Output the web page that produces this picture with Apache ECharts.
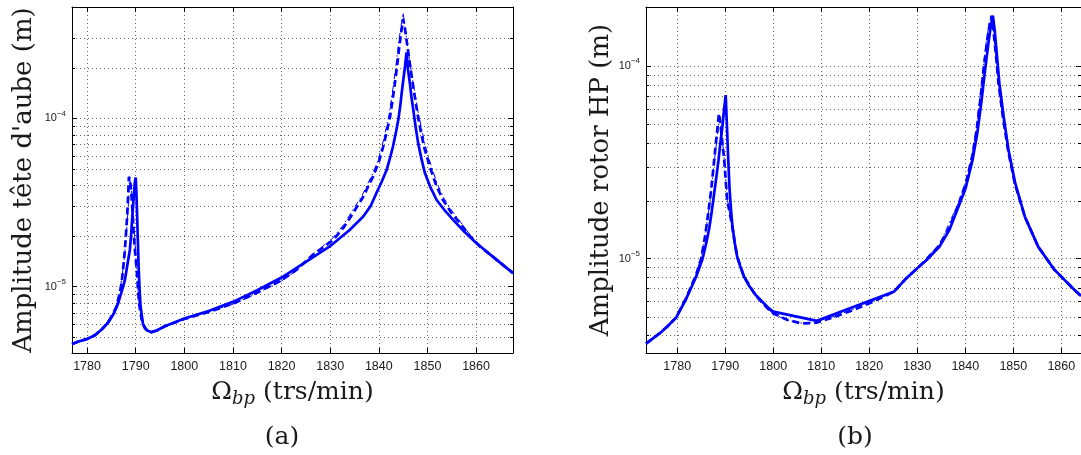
<!DOCTYPE html>
<html><head><meta charset="utf-8">
<script src="https://cdn.jsdelivr.net/npm/echarts@6/dist/echarts.min.js"></script>
<style>html,body{margin:0;padding:0;background:#fff}#c{width:1081px;height:455px}</style>
</head><body><div id="c"></div><script>
// ---------- data (a) : blade tip amplitude ----------
const A_SOLID_X = [1776.9,1778,1780,1781.6,1783,1784.3,1785.5,1786.4,1787.2,1787.8,1788.3,1788.8,1789.1,1789.3,1789.6,1789.8,1790.0,1790.15,1790.3,1790.45,1790.6,1790.8,1791.0,1791.5,1792.2,1793.2,1794.2,1796,1800,1805,1810,1815,1820,1825,1829.9,1834.0,1836.8,1838.3,1839.5,1840.6,1841.6,1842.3,1842.9,1843.5,1844.0,1844.4,1844.7,1845.1,1845.4,1845.7,1846.0,1846.4,1846.7,1847.1,1847.6,1848.1,1848.8,1849.5,1850.6,1851.9,1853.5,1855.3,1857.7,1860.1,1863.5,1867.6];
const A_SOLID_Y = [4.55e-6,4.68e-6,4.87e-6,5.12e-6,5.55e-6,6.07e-6,6.9e-6,7.96e-6,9.5e-6,1.1e-5,1.35e-5,1.65e-5,2.1e-5,2.61e-5,3.4e-5,4.11e-5,4.45e-5,3.6e-5,2.61e-5,1.85e-5,1.32e-5,9.6e-6,7.6e-6,6.0e-6,5.5e-6,5.35e-6,5.45e-6,5.8e-6,6.45e-6,7.15e-6,8.1e-6,9.5e-6,1.13e-5,1.4e-5,1.73e-5,2.17e-5,2.61e-5,3.0e-5,3.59e-5,4.2e-5,4.93e-5,5.8e-5,6.78e-5,8.2e-5,9.77e-5,1.18e-4,1.41e-4,1.75e-4,2.05e-4,2.47e-4,1.95e-4,1.61e-4,1.35e-4,1.12e-4,8.8e-5,7.1e-5,5.7e-5,4.71e-5,3.9e-5,3.27e-5,2.85e-5,2.49e-5,2.1e-5,1.81e-5,1.5e-5,1.2e-5];
const A_DASH_X = [1776.9,1778,1780,1781.6,1783,1784.3,1785.3,1786.0,1786.7,1787.1,1787.4,1787.7,1787.95,1788.2,1788.4,1788.6,1788.85,1789.1,1789.3,1789.5,1789.8,1790.2,1790.5,1790.7,1791.2,1791.8,1792.5,1793.2,1794.2,1796,1800,1805,1810,1815,1820,1823,1826.5,1830.6,1832.8,1834.7,1836.8,1838.8,1840,1840.9,1841.7,1842.3,1842.8,1843.3,1843.8,1844.3,1844.7,1845.0,1845.4,1845.8,1846.3,1846.8,1847.4,1848.0,1848.6,1849.4,1850.5,1851.8,1853.2,1854.9,1856.7,1858.7,1860.8,1863.5,1867.6];
const A_DASH_Y = [4.55e-6,4.68e-6,4.87e-6,5.12e-6,5.55e-6,6.1e-6,6.9e-6,7.5e-6,9.1e-6,1.05e-5,1.26e-5,1.55e-5,1.95e-5,2.5e-5,3.2e-5,4.5e-5,4.3e-5,3.6e-5,2.9e-5,2.27e-5,1.7e-5,1.26e-5,9.5e-6,7.9e-6,6.4e-6,5.7e-6,5.45e-6,5.35e-6,5.45e-6,5.8e-6,6.4e-6,7.05e-6,7.9e-6,9.2e-6,1.09e-5,1.25e-5,1.55e-5,1.89e-5,2.25e-5,2.73e-5,3.42e-5,4.5e-5,5.5e-5,6.78e-5,8.5e-5,1.02e-4,1.27e-4,1.61e-4,2.1e-4,2.79e-4,3.4e-4,3.9e-4,3.4e-4,2.8e-4,2.2e-4,1.75e-4,1.35e-4,1.05e-4,8.5e-5,6.6e-5,5.16e-5,4.0e-5,3.27e-5,2.75e-5,2.38e-5,2.0e-5,1.73e-5,1.5e-5,1.2e-5];
const A_DOTDASH_X = [1776.9,1780,1783,1785.2,1786.0,1786.6,1787.1,1787.5,1787.9,1788.2,1788.5,1788.7,1789.0,1789.3,1789.7,1790.2,1790.7,1791.3,1792.2,1793.2,1796,1800,1810,1815,1820,1823,1826.5,1830.4,1832.6,1834.5,1836.6,1838.6,1839.8,1840.7,1841.5,1842.1,1842.6,1843.1,1843.6,1844.1,1844.6,1845.0,1845.4,1845.8,1846.3,1846.8,1847.5,1848.1,1848.8,1849.6,1850.7,1852.0,1853.4,1855.1,1856.9,1858.8,1860.8,1863.5,1867.6];
const A_DOTDASH_Y = [4.55e-6,4.87e-6,5.55e-6,6.8e-6,7.6e-6,9.0e-6,1.1e-5,1.35e-5,1.75e-5,2.3e-5,3.1e-5,4.4e-5,4.1e-5,3.3e-5,2.2e-5,1.25e-5,7.8e-6,6.3e-6,5.5e-6,5.35e-6,5.8e-6,6.4e-6,7.85e-6,9.1e-6,1.08e-5,1.24e-5,1.56e-5,1.92e-5,2.3e-5,2.8e-5,3.5e-5,4.6e-5,5.6e-5,6.9e-5,8.7e-5,1.05e-4,1.3e-4,1.65e-4,2.15e-4,2.85e-4,3.6e-4,4.25e-4,3.5e-4,2.85e-4,2.25e-4,1.8e-4,1.38e-4,1.08e-4,8.7e-5,6.8e-5,5.3e-5,4.1e-5,3.35e-5,2.8e-5,2.4e-5,2.02e-5,1.73e-5,1.5e-5,1.2e-5];
// ---------- data (b) : HP rotor amplitude ----------
const B_SOLID_X = [1773.5,1776.4,1778,1779.8,1781.9,1783.9,1785.3,1786.1,1786.7,1787.2,1787.7,1788.2,1788.6,1789.0,1789.4,1789.75,1790.1,1790.3,1790.6,1790.9,1791.2,1791.5,1792.0,1792.5,1793.2,1793.9,1795,1796.3,1798.7,1800,1809.1,1825.2,1827.5,1830,1831.9,1834.6,1836.7,1838.6,1840.1,1841.5,1842.5,1843.4,1844.2,1844.9,1845.3,1845.75,1846.1,1846.5,1847.1,1848.0,1849.0,1850.4,1852.4,1855.2,1858.6,1862.7,1864.1];
const B_SOLID_Y = [3.62e-6,4.1e-6,4.45e-6,4.95e-6,6.2e-6,8.0e-6,1.0e-5,1.22e-5,1.45e-5,1.76e-5,2.18e-5,2.7e-5,3.24e-5,4.0e-5,4.83e-5,5.9e-5,7.05e-5,5.3e-5,3.4e-5,2.3e-5,1.8e-5,1.47e-5,1.2e-5,1.02e-5,9.0e-6,8.07e-6,7.2e-6,6.49e-6,5.64e-6,5.3e-6,4.75e-6,6.75e-6,7.8e-6,8.9e-6,9.8e-6,1.15e-5,1.41e-5,1.86e-5,2.33e-5,3.24e-5,4.47e-5,6.64e-5,9.9e-5,1.36e-4,1.6e-4,1.82e-4,1.55e-4,1.2e-4,8.1e-5,5.45e-5,3.66e-5,2.46e-5,1.65e-5,1.15e-5,8.73e-6,6.89e-6,6.4e-6];
const B_DASH_X = [1773.5,1776.4,1778,1779.8,1781.9,1783.9,1785.0,1785.8,1786.5,1787.1,1787.7,1788.2,1788.7,1789.0,1789.4,1789.8,1790.4,1790.9,1791.5,1792.0,1792.5,1793.9,1796.3,1798.7,1800,1803,1806,1809,1813,1817,1821,1825.2,1827.5,1830,1831.9,1834.6,1836.7,1838.6,1840.1,1841.4,1842.4,1843.2,1843.9,1844.6,1845.1,1845.5,1845.9,1846.3,1846.9,1847.8,1848.9,1850.3,1852.4,1855.2,1858.6,1862.7,1864.1];
const B_DASH_Y = [3.62e-6,4.1e-6,4.45e-6,4.95e-6,6.25e-6,8.2e-6,1.0e-5,1.3e-5,1.75e-5,2.3e-5,3.24e-5,4.3e-5,5.66e-5,5.0e-5,4.0e-5,3.24e-5,2.01e-5,1.75e-5,1.45e-5,1.2e-5,1.02e-5,8.07e-6,6.45e-6,5.55e-6,5.2e-6,4.8e-6,4.6e-6,4.65e-6,5.0e-6,5.45e-6,6.0e-6,6.75e-6,7.8e-6,8.9e-6,9.9e-6,1.17e-5,1.45e-5,1.92e-5,2.45e-5,3.35e-5,4.7e-5,6.9e-5,1.0e-4,1.38e-4,1.65e-4,1.82e-4,1.5e-4,1.2e-4,8.2e-5,5.5e-5,3.66e-5,2.46e-5,1.65e-5,1.15e-5,8.73e-6,6.89e-6,6.4e-6];
const B_DOTDASH_X = [1773.5,1778,1779.8,1783.9,1785.0,1785.9,1786.6,1787.2,1787.8,1788.3,1788.8,1789.2,1789.6,1790.0,1790.5,1791.1,1791.8,1792.5,1794,1796.3,1800,1803,1806,1809,1813,1817,1821,1825.2,1830,1834.6,1838.6,1840.1,1841.4,1842.3,1843.1,1843.8,1844.5,1845.0,1845.5,1845.9,1846.3,1846.9,1847.8,1848.9,1850.3,1852.4,1855.2,1858.6,1864.1];
const B_DOTDASH_Y = [3.62e-6,4.45e-6,4.95e-6,8.2e-6,1.03e-5,1.35e-5,1.8e-5,2.4e-5,3.3e-5,4.2e-5,5.3e-5,4.6e-5,3.7e-5,2.8e-5,2.0e-5,1.6e-5,1.3e-5,1.02e-5,7.9e-6,6.45e-6,5.15e-6,4.78e-6,4.62e-6,4.7e-6,5.05e-6,5.5e-6,6.05e-6,6.75e-6,8.9e-6,1.18e-5,1.95e-5,2.5e-5,3.4e-5,4.75e-5,7.0e-5,1.02e-4,1.4e-4,1.67e-4,1.8e-4,1.5e-4,1.18e-4,8.0e-5,5.4e-5,3.6e-5,2.45e-5,1.65e-5,1.15e-5,8.73e-6,6.4e-6];
// axis ranges and minor (log) grid values
const A_XRANGE = [1776.9, 1867.6];
const A_YRANGE = [4.02e-6, 4.6e-4];
const B_XRANGE = [1773.5, 1864.1];
const B_YRANGE = [3.235e-6, 2.02e-4];
const A_MINOR = [5e-6,6e-6,7e-6,8e-6,9e-6,2e-5,3e-5,4e-5,5e-5,6e-5,7e-5,8e-5,9e-5,2e-4,3e-4];
const B_MINOR = [4e-6,5e-6,6e-6,7e-6,8e-6,9e-6,2e-5,3e-5,4e-5,5e-5,6e-5,7e-5,8e-5,9e-5];
const A_YNAME = "Amplitude tête d'aube (m)";
const B_YNAME = 'Amplitude rotor HP (m)';
const XNAME = 'Ω{sub|bp} (trs/min)';
const PANEL_TAGS = ['(a)', '(b)'];

const zip = (xs, ys) => xs.map((x, i) => [x, ys[i]]);
const BLUE = '#0000ff';
const GRIDC = '#666';
const DOT = [1, 3];
const TICKF = 'Liberation Sans';
const SERIF = 'DejaVu Serif';
const TXT = '#1a1a1a';

const chart = echarts.init(document.getElementById('c'), null, {renderer: 'canvas'});

function xAxes(gi, r) {
  const common = {type: 'value', gridIndex: gi, min: r[0], max: r[1], splitNumber: 9,
    axisLine: {show: true, lineStyle: {color: '#000', width: 1}},
    axisTick: {show: true, inside: true, length: 5, lineStyle: {color: '#000'}}};
  return [
    Object.assign({}, common, {position: 'bottom',
      axisLabel: {color: TXT, fontFamily: TICKF, fontSize: 12.5, margin: 7, showMinLabel: false, showMaxLabel: false,
        formatter: v => String(Math.round(v))},
      splitLine: {show: true, lineStyle: {color: GRIDC, type: DOT}},
      name: XNAME, nameLocation: 'middle', nameGap: 22,
      nameTextStyle: {fontFamily: SERIF, fontSize: 25, color: TXT, lineHeight: 30,
        rich: {sub: {fontFamily: SERIF, fontStyle: 'italic', fontSize: 18, color: TXT, verticalAlign: 'bottom', lineHeight: 30}}}}),
    Object.assign({}, common, {position: 'top', axisLabel: {show: false}, splitLine: {show: false}})
  ];
}
function yAxes(gi, r, name, gap) {
  const common = {type: 'log', logBase: 10, gridIndex: gi, min: r[0], max: r[1],
    axisLine: {show: true, lineStyle: {color: '#000', width: 1}},
    axisTick: {show: true, inside: true, length: 5, lineStyle: {color: '#000'}}};
  return [
    Object.assign({}, common, {position: 'left',
      axisLabel: {margin: 6, showMinLabel: false, showMaxLabel: false,
        formatter: v => { const e = Math.round(Math.log10(v)); return '{b|10}{s|' + (e < 0 ? '−' : '') + Math.abs(e) + '}'; },
        rich: {b: {fontFamily: TICKF, fontSize: 11, color: TXT, lineHeight: 18, verticalAlign: 'middle'},
               s: {fontFamily: TICKF, fontSize: 8, color: TXT, verticalAlign: 'top'}}},
      splitLine: {show: true, lineStyle: {color: GRIDC, type: DOT}},
      name: name, nameLocation: 'middle', nameRotate: 90, nameGap: gap,
      nameTextStyle: {fontFamily: SERIF, fontSize: 26, color: TXT}}),
    Object.assign({}, common, {position: 'right', axisLabel: {show: false}, splitLine: {show: false}})
  ];
}
function ser(xi, yi, xs, ys, kind) {
  const ls = kind === 'solid' ? {color: BLUE, width: 2.7, type: 'solid'}
           : kind === 'dash' ? {color: BLUE, width: 2.7, type: [7, 4]}
           : {color: BLUE, width: 1, type: [6, 3, 1.5, 3]};
  return {type: 'line', xAxisIndex: xi, yAxisIndex: yi, data: zip(xs, ys), showSymbol: false,
    symbol: 'none', smooth: false, lineStyle: ls, silent: true, animation: false, z: 3, clip: true};
}

chart.setOption({
  animation: false,
  backgroundColor: '#fff',
  grid: [{left: 72, top: 7, width: 441, height: 346}, {left: 646, top: 7, width: 441, height: 346}],
  xAxis: xAxes(0, A_XRANGE).concat(xAxes(1, B_XRANGE)),
  yAxis: yAxes(0, A_YRANGE, A_YNAME, 35).concat(yAxes(1, B_YRANGE, B_YNAME, 31)),
  series: [
    ser(0, 0, A_DOTDASH_X, A_DOTDASH_Y, 'dotdash'),
    ser(0, 0, A_DASH_X, A_DASH_Y, 'dash'),
    ser(0, 0, A_SOLID_X, A_SOLID_Y, 'solid'),
    ser(2, 2, B_DOTDASH_X, B_DOTDASH_Y, 'dotdash'),
    ser(2, 2, B_DASH_X, B_DASH_Y, 'dash'),
    ser(2, 2, B_SOLID_X, B_SOLID_Y, 'solid')
  ]
});

function decor(xi, yi, r, vals) {
  const xl = chart.convertToPixel({xAxisIndex: xi}, r[0]);
  const xr = chart.convertToPixel({xAxisIndex: xi}, r[1]);
  const els = [];
  vals.forEach(v => {
    const y = Math.round(chart.convertToPixel({yAxisIndex: yi}, v)) + 0.5;
    els.push({type: 'line', silent: true, z: 1, shape: {x1: xl, y1: y, x2: xr, y2: y}, style: {stroke: GRIDC, lineWidth: 1, lineDash: DOT}});
    els.push({type: 'line', silent: true, z: 50, shape: {x1: xl, y1: y, x2: xl + 3, y2: y}, style: {stroke: '#000', lineWidth: 1}});
    els.push({type: 'line', silent: true, z: 50, shape: {x1: xr - 3, y1: y, x2: xr, y2: y}, style: {stroke: '#000', lineWidth: 1}});
  });
  return els;
}
const tagA = {type: 'text', x: 282, y: 437, silent: true, style: {text: PANEL_TAGS[0], textAlign: 'center', textVerticalAlign: 'middle', fontFamily: SERIF, fontSize: 25, fill: TXT}};
const tagB = {type: 'text', x: 855, y: 437, silent: true, style: {text: PANEL_TAGS[1], textAlign: 'center', textVerticalAlign: 'middle', fontFamily: SERIF, fontSize: 25, fill: TXT}};
chart.setOption({graphic: decor(0, 0, A_XRANGE, A_MINOR).concat(decor(2, 2, B_XRANGE, B_MINOR), [tagA, tagB])});
</script></body></html>
